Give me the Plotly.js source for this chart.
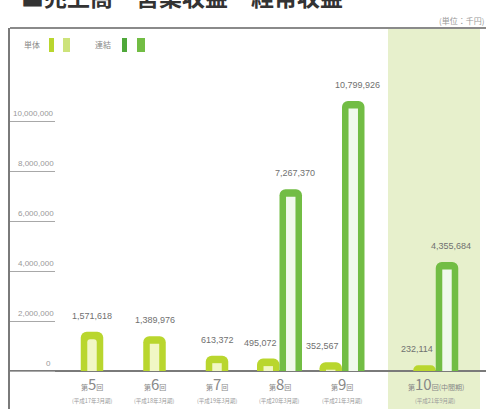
<!DOCTYPE html>
<html><head><meta charset="utf-8">
<script src="https://cdn.plot.ly/plotly-3.0.1.min.js"></script>
<style>html,body{margin:0;padding:0;background:#fff}#c{width:486px;height:409px}</style>
</head><body><div id="c"></div>
<script>
// ---- data ----
const categories = ['第5回','第6回','第7回','第8回','第9回','第10回(中間期)'];
const periods = ['(平成17年3月期)','(平成18年3月期)','(平成19年3月期)','(平成20年3月期)','(平成21年3月期)','(平成21年9月期)'];
const tantai = [1571618, 1389976, 613372, 495072, 352567, 232114];      // 単体
const renketsu = [null, null, null, 7267370, 10799926, 4355684];        // 連結
const yTickVals = [0, 2000000, 4000000, 6000000, 8000000, 10000000];
const yTickText = ['0','2,000,000','4,000,000','6,000,000','8,000,000','10,000,000'];
const seriesNames = ['単体','連結'];
const titleText = '■売上高・営業収益・経常収益';
const unitText = '(単位：千円)';

// ---- layout constants ----
const catX = [0,1,2,3,4,5.5];
const W = 486, H = 409, ML = 10, MT = 28;
const PW = W - ML, PH = H - MT;
const xr = [-1.312, 6.304];
const yr = [-1520000, 13720000];
const bw = 0.36;
const cap = 300000;
const c1 = '#b9d62e', c2 = '#72bd44';
const px2x = p => (p - ML) / PW;
const py2y = p => (H - p) / PH;
const fmt = v => v.toLocaleString('en-US');

const off1 = renketsu.map(v => v == null ? -bw/2 : -bw);
const off2 = renketsu.map(() => 0);
const iw = 0.42;

const traces = [
  {type:'bar', name:seriesNames[0], x:catX, y:tantai, width:bw, offset:off1,
   marker:{color:c1, cornerradius:6}, hoverinfo:'skip'},
  {type:'bar', name:seriesNames[1], x:catX, y:renketsu, width:bw, offset:off2,
   marker:{color:c2, cornerradius:6}, hoverinfo:'skip'},
  {type:'bar', x:catX, y:tantai.map(v => Math.max(0, v - cap)), width:bw*iw,
   offset:off1.map(o => o + bw*(1-iw)/2), marker:{color:'rgba(255,255,235,0.8)', cornerradius:3}, hoverinfo:'skip'},
  {type:'bar', x:catX, y:renketsu.map(v => v == null ? null : Math.max(0, v - cap)), width:bw*iw,
   offset:off2.map(o => o + bw*(1-iw)/2), marker:{color:'rgba(255,255,255,0.9)', cornerradius:3}, hoverinfo:'skip'}
];

const ann = [];
const lblFont = {family:'Liberation Sans Narrow, Liberation Sans, sans-serif', size:9, color:'#707070'};
tantai.forEach((v,i) => {
  const paired = renketsu[i] != null;
  ann.push({x:catX[i] + off1[i] + bw/2, y:v, xref:'x', yref:'y', text:fmt(v), showarrow:false,
    yanchor:'bottom', yshift:9, xshift: paired ? -8 : 0, font:lblFont});
});
renketsu.forEach((v,i) => {
  if (v == null) return;
  ann.push({x:catX[i] + off2[i] + bw/2, y:v, xref:'x', yref:'y', text:fmt(v), showarrow:false,
    yanchor:'bottom', yshift:9, xshift:4, font:lblFont});
});
categories.forEach((c,i) => {
  const t = c.replace(/(\d+)/, '<span style="font-size:15px">$1</span>');
  ann.push({x:catX[i], y:-480000, xref:'x', yref:'y', text:t, showarrow:false, yanchor:'middle',
    font:{family:'Noto Sans CJK JP, sans-serif', size:7, color:'#888'}});
  ann.push({x:catX[i], y:-1200000, xref:'x', yref:'y', text:periods[i], showarrow:false, yanchor:'middle',
    font:{family:'Noto Sans CJK JP, sans-serif', size:5.5, color:'#999'}});
});
yTickVals.forEach((v,i) => {
  ann.push({x:px2x(i === 0 ? 53 : 56), y:v, xref:'paper', yref:'y', text:yTickText[i], showarrow:false,
    xanchor:'right', yanchor:'bottom', yshift:1,
    font:{family:'Liberation Sans Narrow, Liberation Sans, sans-serif', size:8, color:'#999'}});
});
// title, unit
ann.push({x:px2x(19), y:py2y(-4), xref:'paper', yref:'paper', text:'<b>'+titleText+'</b>', showarrow:false,
  xanchor:'left', yanchor:'middle', font:{family:'Noto Sans CJK JP, sans-serif', size:23, color:'#333'}});
ann.push({x:px2x(486), y:py2y(21), xref:'paper', yref:'paper', text:unitText, showarrow:false,
  xanchor:'right', yanchor:'middle', font:{family:'Noto Sans CJK JP, sans-serif', size:8, color:'#999'}});
// legend texts
ann.push({x:px2x(22), y:py2y(45), xref:'paper', yref:'paper', text:seriesNames[0], showarrow:false,
  xanchor:'left', yanchor:'middle', font:{family:'Noto Sans CJK JP, sans-serif', size:8, color:'#888'}});
ann.push({x:px2x(93), y:py2y(45), xref:'paper', yref:'paper', text:seriesNames[1], showarrow:false,
  xanchor:'left', yanchor:'middle', font:{family:'Noto Sans CJK JP, sans-serif', size:8, color:'#888'}});

const rectP = (x0,x1,y0,y1,col) => ({type:'rect', xref:'paper', yref:'paper',
  x0:px2x(x0), x1:px2x(x1), y0:py2y(y1), y1:py2y(y0), fillcolor:col, line:{width:0}});

const shapes = [
  {type:'rect', xref:'x', yref:'paper', x0:4.736, x1:6.208, y0:0, y1:1, fillcolor:'#e7f0cc', line:{width:0}, layer:'below'},
  {type:'line', xref:'paper', yref:'paper', x0:0, x1:1, y0:1, y1:1, line:{color:'#8a8a8a', width:2}},
  rectP(49,54,38,52,c1), rectP(63,70,38,52,'#cde37a'),
  rectP(122,127,38,52,'#4fa83a'), rectP(137,145,38,52,c2)
];

const layout = {
  width:W, height:H, margin:{l:ML, r:0, t:MT, b:0},
  paper_bgcolor:'#fff', plot_bgcolor:'rgba(0,0,0,0)',
  barmode:'overlay', showlegend:false,
  xaxis:{range:xr, showgrid:false, zeroline:false, showticklabels:false, ticks:'', fixedrange:true},
  yaxis:{range:yr, tickvals:yTickVals, showticklabels:false, ticks:'inside', ticklen:45, tickcolor:'#a8a8a8', tickwidth:1,
    showgrid:false, zeroline:true, zerolinecolor:'#7a7a7a', zerolinewidth:1.5,
    showline:true, linecolor:'#7a7a7a', linewidth:2, fixedrange:true},
  annotations:ann, shapes:shapes
};
Plotly.newPlot('c', traces, layout, {displayModeBar:false, staticPlot:true});
</script></body></html>
